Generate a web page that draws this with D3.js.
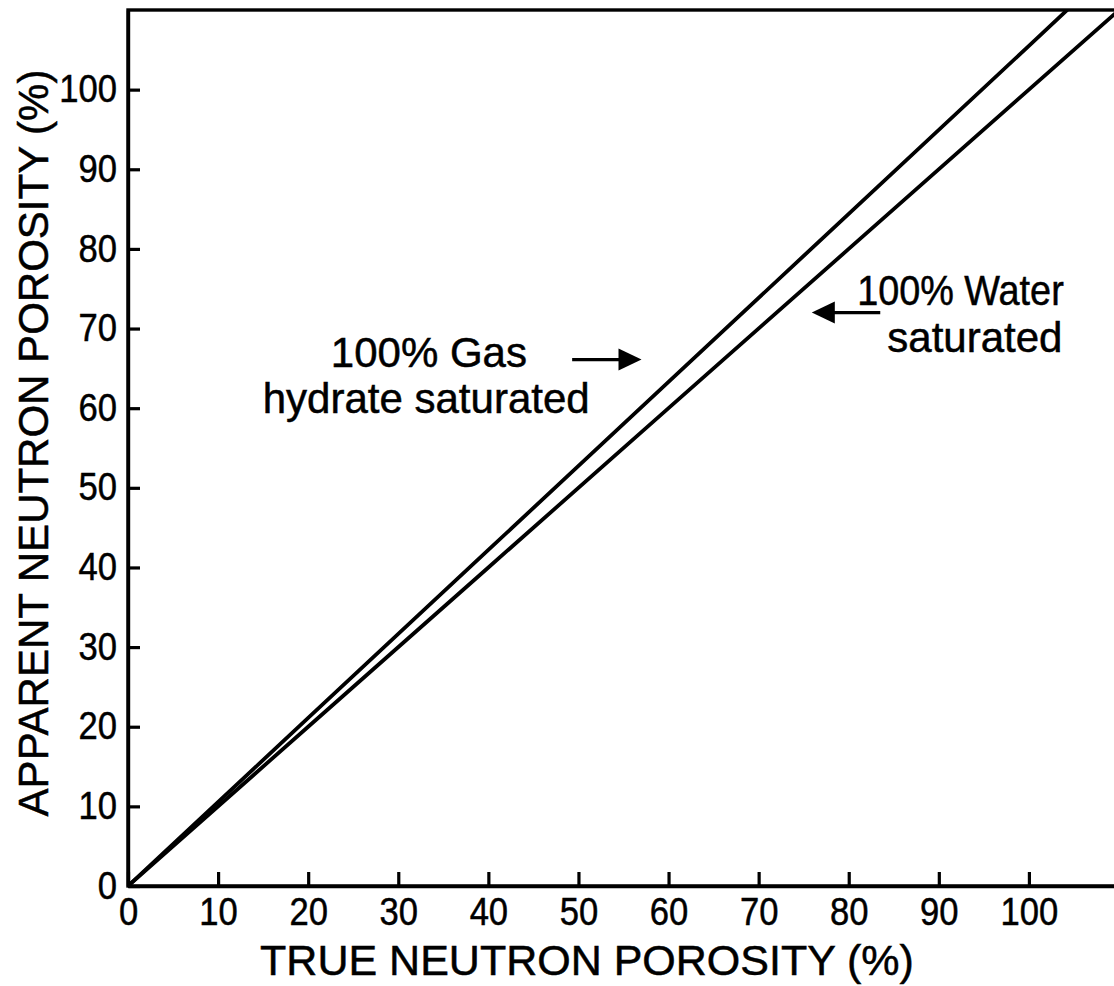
<!DOCTYPE html>
<html>
<head>
<meta charset="utf-8">
<script src="https://cdn.jsdelivr.net/npm/d3@7"></script>
<style>
  html, body { margin: 0; padding: 0; background: #fff; }
  svg { display: block; }
  text { font-family: "Liberation Sans", Arial, Helvetica, sans-serif; fill: #000; stroke: #000; stroke-width: 0.5px; }
</style>
</head>
<body>
<svg id="chart" width="1114" height="986"></svg>
<script>
// ---- data ----
const trueNeutronPorosity = [0, 20, 40, 60, 80, 100, 110];
const waterSaturated      = [0, 20, 40, 60, 80, 100, 110];
const gasHydrateSaturated = [0, 21.1, 42.2, 63.3, 84.4, 105.5, 116.1];
const xTickValues = [0, 10, 20, 30, 40, 50, 60, 70, 80, 90, 100];
const yTickValues = [0, 10, 20, 30, 40, 50, 60, 70, 80, 90, 100];
const xTitle = "TRUE NEUTRON POROSITY (%)";
const yTitle = "APPARENT NEUTRON POROSITY (%)";
const gasLabel = ["100% Gas", "hydrate saturated"];
const waterLabel = ["100% Water", "saturated"];
// annotation anchors in data units
const gasLabelPos = [[33.4, 65.2], [33.1, 59.4]];
const waterLabelPos = [[92.4, 73.0], [94.0, 67.1]];
const gasArrow = [[49.3, 66.1], [57.0, 66.1]];
const waterArrow = [[83.5, 72.0], [75.9, 72.0]];

// ---- layout ----
const svg = d3.select("#chart");
const x = d3.scaleLinear().domain([0, 110]).range([128, 1119]);
const y = d3.scaleLinear().domain([0, 110]).range([886, 10]);
const FONT = '"Liberation Sans", Arial, Helvetica, sans-serif';

svg.append("defs").append("clipPath").attr("id", "plotclip")
  .append("rect")
  .attr("x", x(0)).attr("y", y(110))
  .attr("width", x(110) - x(0)).attr("height", y(0) - y(110));

// frame
svg.append("rect")
  .attr("x", x(0)).attr("y", y(110))
  .attr("width", x(110) - x(0)).attr("height", y(0) - y(110))
  .attr("fill", "none").attr("stroke", "#000").attr("stroke-width", 3.4);

// axes
const xAxis = d3.axisBottom(x).tickValues(xTickValues).tickSize(-14).tickSizeOuter(0).tickPadding(12);
const yAxis = d3.axisLeft(y).tickValues(yTickValues).tickSize(-12).tickSizeOuter(0).tickPadding(11);

const gx = svg.append("g").attr("transform", `translate(0,${y(0)})`).call(xAxis);
const gy = svg.append("g").attr("transform", `translate(${x(0)},0)`).call(yAxis);
[gx, gy].forEach(g => {
  g.select(".domain").attr("stroke", "#000").attr("stroke-width", 3.4);
  g.selectAll(".tick line").attr("stroke", "#000").attr("stroke-width", 3.2);
  g.selectAll(".tick text")
    .style("font-family", FONT)
    .style("font-size", "38px").attr("fill", "#000")
    .each(function () {
      const w = this.getComputedTextLength();
      d3.select(this).attr("textLength", w * 0.91).attr("lengthAdjust", "spacingAndGlyphs");
    });
});

// lines
const line = d3.line().x(d => x(d[0])).y(d => y(d[1]));
const plot = svg.append("g").attr("clip-path", "url(#plotclip)");
[waterSaturated, gasHydrateSaturated].forEach(series => {
  plot.append("path")
    .datum(trueNeutronPorosity.map((t, i) => [t, series[i]]))
    .attr("d", line)
    .attr("fill", "none").attr("stroke", "#000").attr("stroke-width", 3.8);
});

// annotations
function label(lines, pos, fit) {
  lines.forEach((t, i) => {
    const el = svg.append("text")
      .attr("x", x(pos[i][0])).attr("y", y(pos[i][1]))
      .attr("text-anchor", "middle")
      .style("font-size", "42px")
      .text(t);
    if (fit && fit[i]) {
      el.attr("textLength", el.node().getComputedTextLength() * fit[i]).attr("lengthAdjust", "spacingAndGlyphs");
    }
  });
}
label(gasLabel, gasLabelPos);
label(waterLabel, waterLabelPos, [0.9, null]);

function arrow(a) {
  const x0 = x(a[0][0]), x1 = x(a[1][0]), yy = y(a[0][1]);
  const dir = Math.sign(x1 - x0);
  const headLen = 23, headHalf = 11;
  svg.append("line")
    .attr("x1", x0).attr("y1", yy).attr("x2", x1 - dir * headLen * 0.8).attr("y2", yy)
    .attr("stroke", "#000").attr("stroke-width", 3.2);
  svg.append("path")
    .attr("d", `M${x1},${yy} L${x1 - dir * headLen},${yy - headHalf} L${x1 - dir * headLen},${yy + headHalf} Z`)
    .attr("fill", "#000");
}
arrow(gasArrow);
arrow(waterArrow);

// axis titles
svg.append("text")
  .attr("x", 587).attr("y", 975)
  .attr("text-anchor", "middle")
  .style("font-size", "43px")
  .text(xTitle);
svg.append("text")
  .attr("transform", `translate(48,443) rotate(-90)`)
  .attr("text-anchor", "middle")
  .style("font-size", "42px")
  .text(yTitle);
</script>
</body>
</html>
